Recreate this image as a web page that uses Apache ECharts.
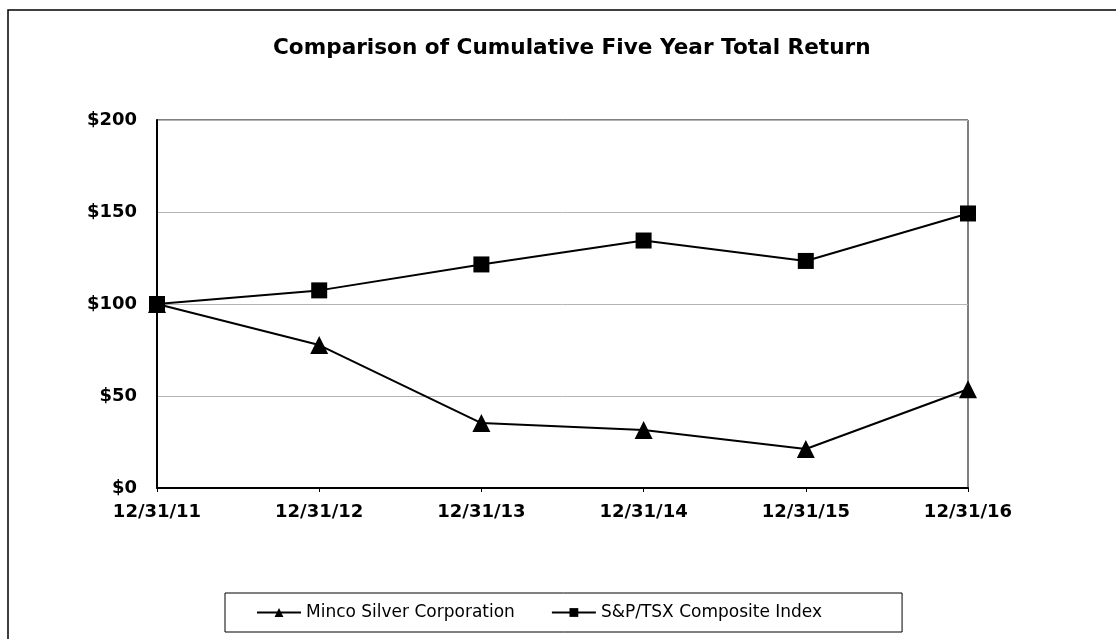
<!DOCTYPE html>
<html>
<head>
<meta charset="utf-8">
<script src="https://cdn.jsdelivr.net/npm/echarts@6/dist/echarts.min.js"></script>
<style>
html, body { margin: 0; padding: 0; background: #fff; }
#chart { width: 1116px; height: 639px; }
</style>
</head>
<body>
<div id="chart"></div>
<script>
// data
var dates = ['12/31/11', '12/31/12', '12/31/13', '12/31/14', '12/31/15', '12/31/16'];
var minco = [100, 77.7, 35.3, 31.5, 21.2, 53.7];
var tsx = [100, 107.4, 121.5, 134.5, 123.4, 149.2];

var myChart = echarts.init(document.getElementById('chart'));
var font = '"DejaVu Sans", Arial, sans-serif';

var option = {
    backgroundColor: '#fff',
    animation: false,
    title: {
        text: 'Comparison of Cumulative Five Year Total Return',
        left: 273,
        top: 37,
        padding: 0,
        textStyle: { fontFamily: font, fontWeight: 'bold', fontSize: 21.6, color: '#000' }
    },
    graphic: [{
        type: 'rect',
        shape: { x: 8, y: 10, width: 1130, height: 700 },
        style: { fill: 'none', stroke: '#000', lineWidth: 1.5 },
        silent: true
    }],
    legend: {
        data: ['Minco Silver Corporation', 'S&P/TSX Composite Index'],
        left: 225,
        top: 593,
        padding: [11, 80, 11, 31],
        itemWidth: 44,
        itemHeight: 11,
        itemGap: 36,
        borderColor: '#000',
        borderWidth: 1,
        textStyle: { fontFamily: font, fontSize: 17, color: '#000' }
    },
    grid: { left: 157, top: 120, right: 148, bottom: 151, show: true, borderColor: '#000', borderWidth: 1 },
    xAxis: {
        type: 'category',
        data: dates,
        boundaryGap: false,
        axisLine: { lineStyle: { color: '#000', width: 2 } },
        axisTick: { show: true, length: 4, lineStyle: { color: '#000' } },
        axisLabel: { margin: 15, fontFamily: font, fontWeight: 'bold', fontSize: 18, color: '#000' },
        splitLine: { show: false }
    },
    yAxis: {
        type: 'value',
        min: 0, max: 200, interval: 50,
        axisLine: { show: true, lineStyle: { color: '#000', width: 2 } },
        axisTick: { show: false },
        axisLabel: {
            margin: 20, fontFamily: font, fontWeight: 'bold', fontSize: 18, color: '#000',
            formatter: function (v) { return '$' + v; }
        },
        splitLine: { lineStyle: { color: '#b4b4b4', width: 1 } }
    },
    series: [
        {
            name: 'Minco Silver Corporation',
            type: 'line',
            data: minco,
            symbol: 'triangle',
            symbolSize: 18,
            itemStyle: { color: '#000' },
            lineStyle: { color: '#000', width: 2 }
        },
        {
            name: 'S&P/TSX Composite Index',
            type: 'line',
            data: tsx,
            symbol: 'rect',
            symbolSize: 16,
            itemStyle: { color: '#000' },
            lineStyle: { color: '#000', width: 2 }
        }
    ]
};

myChart.setOption(option);
</script>
</body>
</html>
